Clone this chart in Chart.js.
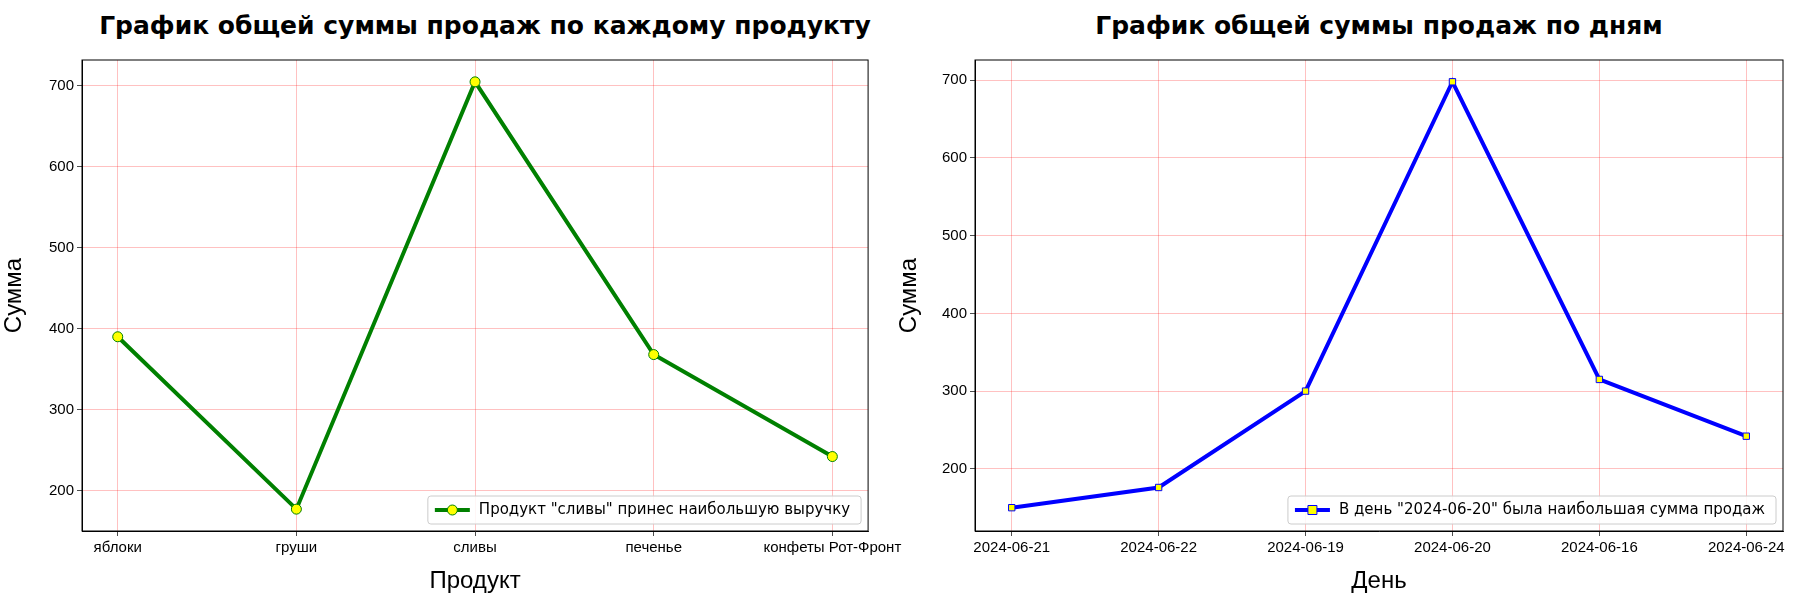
<!DOCTYPE html>
<html><head><meta charset="utf-8">
<script src="https://cdn.jsdelivr.net/npm/chart.js@4/dist/chart.umd.min.js"></script>
<style>
body{margin:0;background:#fff;font-family:"DejaVu Sans",sans-serif}
.box{position:absolute;top:0;width:905px;height:600px}
.ttl{position:absolute;top:11px;font:bold 25px "DejaVu Sans";text-align:center;width:900px}
</style></head><body>
<div class="ttl" style="left:35px">График общей суммы продаж по каждому продукту</div>
<div class="ttl" style="left:929px">График общей суммы продаж по дням</div>
<div class="box" style="left:0"><canvas id="c1"></canvas></div>
<div class="box" style="left:895px"><canvas id="c2"></canvas></div>
<script>
// данные
const products = ['яблоки', 'груши', 'сливы', 'печенье', 'конфеты Рот-Фронт'];
const productSums = [390, 177, 705, 368, 242];
const days = ['2024-06-21', '2024-06-22', '2024-06-19', '2024-06-20', '2024-06-16', '2024-06-24'];
const daySums = [150, 176, 300, 698, 315, 242];
const productTicks = [200, 300, 400, 500, 600, 700];
const dayTicks = [200, 300, 400, 500, 600, 700];

// легенда внутри графика, справа снизу + рамка
const innerLegend = {
  id: 'innerLegend',
  afterDraw(chart) {
    const ds = chart.data.datasets[0];
    const ctx = chart.ctx, a = chart.chartArea;
    ctx.save();
    ctx.strokeStyle = '#000'; ctx.lineWidth = 1;
    ctx.strokeRect(a.left, a.top, a.right - a.left, a.bottom - a.top);
    ctx.font = '15px "DejaVu Sans"';
    const w = ctx.measureText(ds.label).width + 62, h = 28;
    const x = a.right - 7 - w, y = a.bottom - 7 - h;
    ctx.fillStyle = 'rgba(255,255,255,0.85)';
    ctx.strokeStyle = '#ccc';
    ctx.beginPath(); ctx.roundRect(x, y, w, h, 3); ctx.fill(); ctx.stroke();
    const my = y + h / 2;
    ctx.strokeStyle = ds.borderColor; ctx.lineWidth = 4;
    ctx.beginPath(); ctx.moveTo(x + 7, my); ctx.lineTo(x + 42, my); ctx.stroke();
    ctx.fillStyle = 'yellow'; ctx.lineWidth = 1;
    ctx.beginPath();
    if (ds.pointStyle === 'rect') ctx.rect(x + 20, my - 4.5, 9, 9);
    else ctx.arc(x + 24.5, my, 5, 0, Math.PI * 2);
    ctx.fill(); ctx.stroke();
    ctx.fillStyle = '#000'; ctx.textBaseline = 'middle';
    ctx.fillText(ds.label, x + 51, my);
    ctx.restore();
  }
};

const grid = { color: 'rgba(255,0,0,0.35)', lineWidth: 0.7, borderDash: [1.5, 1.5], drawTicks: true, tickColor: '#000', tickLength: 5 };

function makeChart(id, labels, values, ticks, opt) {
  new Chart(document.getElementById(id), {
    type: 'line',
    data: {
      datasets: [{
        label: opt.label,
        data: values.map((v, i) => ({ x: i, y: v })),
        borderColor: opt.color, borderWidth: 4,
        pointStyle: opt.point, pointRadius: opt.point === 'rect' ? 4.5 : 5,
        pointBackgroundColor: 'yellow', pointBorderColor: opt.color, pointBorderWidth: 1,
        tension: 0
      }]
    },
    options: {
      responsive: true, maintainAspectRatio: false, animation: false,
      layout: { padding: { top: 60, right: opt.padRight, bottom: 4 } },
      plugins: { legend: { display: false }, tooltip: { enabled: false } },
      scales: {
        x: {
          type: 'linear', min: -opt.off, max: labels.length - 1 + opt.off,
          afterBuildTicks: s => { s.ticks = labels.map((l, i) => ({ value: i })); },
          ticks: { callback: v => labels[v], color: '#000', font: { size: 15 }, maxRotation: 0, autoSkip: false },
          grid: grid, border: { color: '#000' },
          title: { display: true, text: opt.xTitle, color: '#000', font: { size: 24 }, padding: 0 },
          afterFit: s => { s.height = 65; }
        },
        y: {
          min: opt.yMin, max: opt.yMax,
          afterBuildTicks: s => { s.ticks = ticks.map(v => ({ value: v })); },
          ticks: { color: '#000', font: { size: 15 } },
          grid: grid, border: { color: '#000' },
          title: { display: true, text: 'Сумма', color: '#000', font: { size: 24 }, padding: 0 },
          afterFit: s => { s.width = opt.yWidth; }
        }
      }
    },
    plugins: [innerLegend]
  });
}

makeChart('c1', products, productSums, productTicks, {
  label: 'Продукт "сливы" принес наибольшую выручку', color: 'green', point: 'circle',
  xTitle: 'Продукт', off: 0.2, yMin: 150, yMax: 732, yWidth: 82, padRight: 16
});
makeChart('c2', days, daySums, dayTicks, {
  label: 'В день "2024-06-20" была наибольшая сумма продаж', color: 'blue', point: 'rect',
  xTitle: 'День', off: 0.25, yMin: 120, yMax: 726, yWidth: 80, padRight: 17
});
</script>
</body></html>
